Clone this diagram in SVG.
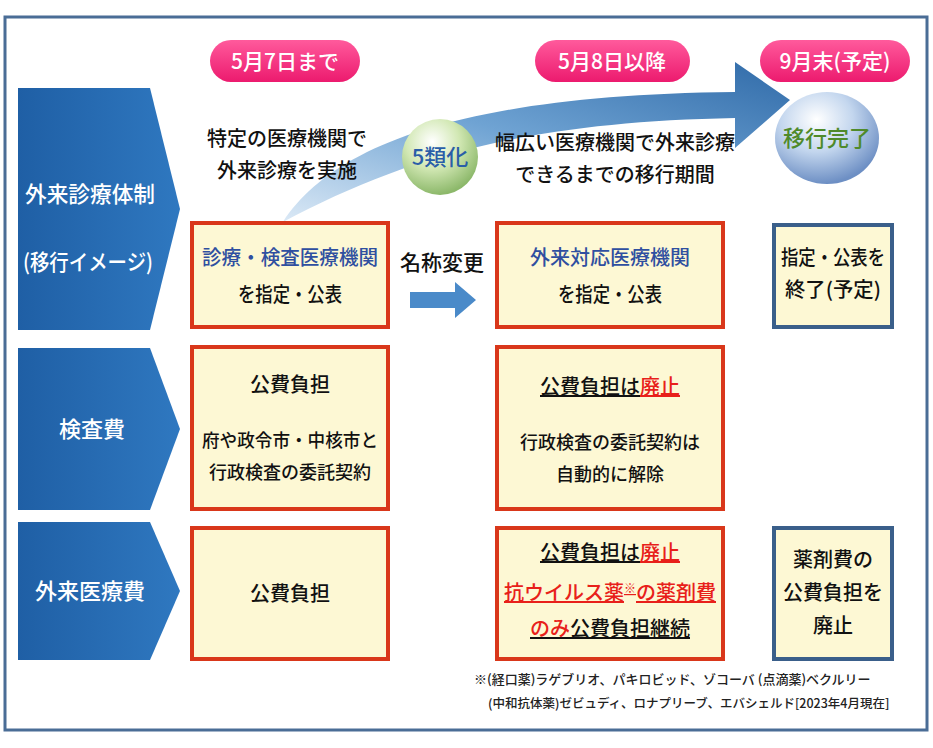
<svg xmlns="http://www.w3.org/2000/svg" width="933" height="748" viewBox="0 0 933 748">
<defs>
<linearGradient id="band" x1="0" y1="0" x2="1" y2="0"><stop offset="0" stop-color="#1f5fa5"/><stop offset="1" stop-color="#2f78c0"/></linearGradient>
<linearGradient id="curve" x1="0" y1="1" x2="1" y2="0"><stop offset="0" stop-color="#dbe9f6"/><stop offset="0.5" stop-color="#6fa3d3"/><stop offset="1" stop-color="#2f6aa8"/></linearGradient>
<radialGradient id="g1" cx="0.4" cy="0.3" r="0.7"><stop offset="0" stop-color="#ffffff"/><stop offset="0.5" stop-color="#d2e8b4"/><stop offset="1" stop-color="#8cb86a"/></radialGradient>
<radialGradient id="g2" cx="0.4" cy="0.3" r="0.7"><stop offset="0" stop-color="#ffffff"/><stop offset="0.5" stop-color="#c3d6ee"/><stop offset="1" stop-color="#6d8fc4"/></radialGradient>
<linearGradient id="pill" x1="0" y1="0" x2="0" y2="1"><stop offset="0" stop-color="#ff5a9c"/><stop offset="1" stop-color="#ec1a6e"/></linearGradient>
</defs>
<style>
text{font-family:"Noto Sans CJK JP","Noto Sans",sans-serif;text-anchor:middle;font-weight:500}
.box{fill:#fdf8d4}
.red{stroke:#d9371a;stroke-width:4}
.blue{stroke:#3a5f8a;stroke-width:4}
.band{fill:url(#band)}
.bt{fill:#fff;font-size:22px}
.t{fill:#111;font-size:20px}
.pt{fill:#fff;font-size:21px}
</style>
<rect x="5" y="17" width="922" height="713" fill="#fff" stroke="#4a6d96" stroke-width="3"/>
<g id="connectors">
<path d="M283,222 C330,150 450,95 735,92 L735,62 L790,100 L735,148 L735,118 C520,122 400,160 283,222 Z" fill="url(#curve)"/>
<path d="M410,292 L455,292 L455,282 L476,300 L455,318 L455,308 L410,308 Z" fill="#4a8ac9"/>
</g>
<g id="p1"><rect x="210" y="40" width="150" height="42" rx="21" fill="url(#pill)"/><text class="pt" x="285" y="69">5月7日まで</text></g>
<g id="p2"><rect x="535" y="40" width="155" height="42" rx="21" fill="url(#pill)"/><text class="pt" x="612" y="69">5月8日以降</text></g>
<g id="p3"><rect x="760" y="40" width="150" height="42" rx="21" fill="url(#pill)"/><text class="pt" x="835" y="69">9月末(予定)</text></g>
<g id="l1"><path class="band" d="M18,88 H150 L180,209 L150,330 H18 Z"/><text class="bt" x="90" y="202" textLength="130" lengthAdjust="spacingAndGlyphs">外来診療体制</text><text class="bt" x="88" y="270" textLength="130" lengthAdjust="spacingAndGlyphs">(移行イメージ)</text></g>
<g id="l2"><path class="band" d="M18,348 H150 L180,429 L150,510 H18 Z"/><text class="bt" x="92" y="437">検査費</text></g>
<g id="l3"><path class="band" d="M18,522 H150 L180,591 L150,660 H18 Z"/><text class="bt" x="90" y="599">外来医療費</text></g>
<g id="t1"><text class="t" x="287" y="146">特定の医療機関で</text><text class="t" x="287" y="178">外来診療を実施</text></g>
<g id="t2"><text class="t" x="615" y="150">幅広い医療機関で外来診療</text><text class="t" x="615" y="182">できるまでの移行期間</text></g>
<g id="c1"><circle cx="440" cy="157" r="38" fill="url(#g1)"/><text x="440" y="165" font-size="22" font-weight="bold" fill="#2a5ea8">5類化</text></g>
<g id="c2"><ellipse cx="827" cy="138" rx="52" ry="46" fill="url(#g2)"/><text x="827" y="146" font-size="22" font-weight="bold" fill="#4f8a2a">移行完了</text></g>
<g id="b1"><rect class="box red" x="192" y="223" width="196" height="104"/><text x="290" y="265" font-size="20" fill="#2f4fa0" textLength="176" lengthAdjust="spacingAndGlyphs">診療・検査医療機関</text><text class="t" x="290" y="302" textLength="104" lengthAdjust="spacingAndGlyphs">を指定・公表</text></g>
<g id="rename"><text x="442" y="270" font-size="21" fill="#111">名称変更</text></g>
<g id="b2"><rect class="box red" x="497" y="223" width="226" height="104"/><text x="610" y="265" font-size="20" fill="#2f4fa0">外来対応医療機関</text><text class="t" x="610" y="302" textLength="104" lengthAdjust="spacingAndGlyphs">を指定・公表</text></g>
<g id="b3"><rect class="box blue" x="774" y="225" width="118" height="102"/><text class="t" x="833" y="265" textLength="104" lengthAdjust="spacingAndGlyphs">指定・公表を</text><text class="t" x="833" y="297" textLength="96" lengthAdjust="spacingAndGlyphs">終了(予定)</text></g>
<g id="b4"><rect class="box red" x="192" y="347" width="196" height="162"/><text class="t" x="290" y="392">公費負担</text><text x="290" y="447" font-size="18" fill="#111" textLength="176" lengthAdjust="spacingAndGlyphs">府や政令市・中核市と</text><text x="290" y="479" font-size="18" fill="#111">行政検査の委託契約</text></g>
<g id="b5"><rect class="box red" x="497" y="347" width="226" height="162"/><text class="t" x="610" y="394"><tspan text-decoration="underline">公費負担は</tspan><tspan fill="#e8201a" text-decoration="underline">廃止</tspan></text><text x="610" y="449" font-size="18" fill="#111">行政検査の委託契約は</text><text x="610" y="481" font-size="18" fill="#111">自動的に解除</text></g>
<g id="b6"><rect class="box red" x="192" y="528" width="196" height="131"/><text class="t" x="290" y="601">公費負担</text></g>
<g id="b7"><rect class="box red" x="497" y="528" width="226" height="131"/><text class="t" x="610" y="560"><tspan text-decoration="underline">公費負担は</tspan><tspan fill="#e8201a" text-decoration="underline">廃止</tspan></text><text x="610" y="600" font-size="20" fill="#e8201a" text-decoration="underline">抗ウイルス薬<tspan font-size="12" dy="-7">※</tspan><tspan dy="7">の薬剤費</tspan></text><text class="t" x="610" y="636" text-decoration="underline"><tspan fill="#e8201a">のみ</tspan>公費負担継続</text></g>
<g id="b8"><rect class="box blue" x="774" y="528" width="118" height="131"/><text class="t" x="833" y="567">薬剤費の</text><text class="t" x="833" y="600">公費負担を</text><text class="t" x="833" y="633">廃止</text></g>
<g id="note"><text x="474" y="684" font-size="13" fill="#222" style="text-anchor:start">※(経口薬)ラゲブリオ、パキロビッド、ゾコーバ (点滴薬)ベクルリー</text><text x="488" y="708" font-size="12.5" fill="#222" style="text-anchor:start">(中和抗体薬)ゼビュディ、ロナプリーブ、エバシェルド[2023年4月現在]</text></g>
</svg>
